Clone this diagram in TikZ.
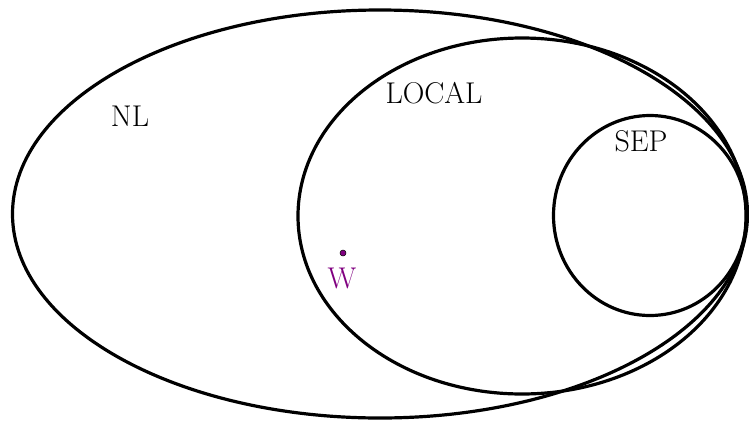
\documentclass[tikz,border=0pt]{standalone}
\usetikzlibrary{shapes.geometric}
\definecolor{wpurple}{RGB}{128,0,128}
\begin{document}
\begin{tikzpicture}[x=1pt,y=-1pt,
  setline/.style={line width=3.2pt},
  lbl/.style={font=\fontsize{30}{33}\selectfont, inner sep=0pt}]
\useasboundingbox (0,0) rectangle (749,421);
\draw[setline] (380,214) ellipse [x radius=367.5, y radius=204];
\draw[setline] (522,216) ellipse [x radius=224, y radius=178];
\draw[setline] (650,215.5) ellipse [x radius=96.5, y radius=100];
\node[lbl] (nl) at (130,116) {NL};
\node[lbl] (local) at (434,93) {LOCAL};
\node[lbl] (sep) at (641,141) {SEP};
\node[circle, fill=wpurple, draw=black, line width=0.5pt, inner sep=0pt, minimum size=6pt] (wdot) at (343,253) {};
\node[lbl, text=wpurple] (w) at (342,278) {W};
\end{tikzpicture}
\end{document}
